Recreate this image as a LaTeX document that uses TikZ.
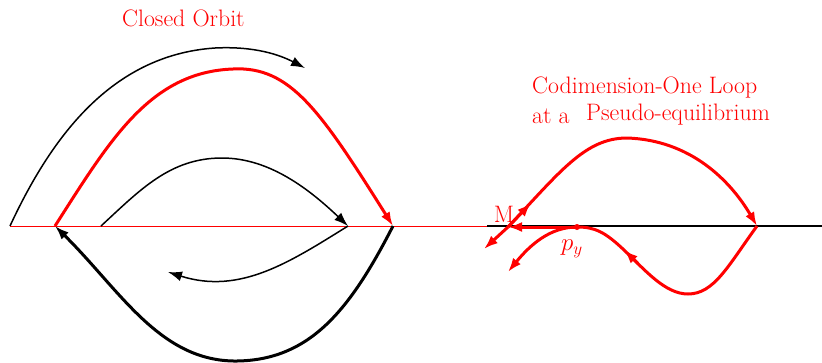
\documentclass[tikz,border=0pt]{standalone}
\usetikzlibrary{arrows.meta}
\begin{document}
\begin{tikzpicture}[x=1pt,y=-1pt,
  thinblk/.style={black, line width=1.5pt},
  thickblk/.style={black, line width=3pt},
  thickred/.style={red, line width=3pt},
  arr/.style={-{Latex[length=14pt,width=10pt]}},
  lbl/.style={red, font=\fontsize{23.8}{28}\selectfont, inner sep=0pt}
]
\useasboundingbox (0,0) rectangle (822,362);

% axis lines
\coordinate (L0) at (10,226);
\coordinate (Lmid) at (487,226);
\coordinate (Lend) at (822,226);
\draw[red, line width=1pt] (L0) -- (Lmid);
\draw[black, line width=1.8pt] (Lmid) -- (Lend);

% left part points
\coordinate (O0) at (10,226);
\coordinate (O1) at (305,68);
\coordinate (R0) at (55,226);
\coordinate (R1) at (393,226);
\coordinate (I0) at (101,226);
\coordinate (I1) at (348,226);
\coordinate (D1) at (168,272);

% outer thin black arc
\draw[thinblk, arr] (O0) .. controls (50,140) and (110,55) .. (215,48)
   .. controls (255,46) and (280,55) .. (O1);
% red closed orbit (upper)
\draw[thickred, arr] (R0) .. controls (110,140) and (150,72) .. (233,69)
   .. controls (290,66) and (320,110) .. (R1);
% inner thin black arc
\draw[thinblk, arr] (I0) .. controls (140,190) and (170,158) .. (222,158)
   .. controls (270,158) and (310,190) .. (I1);
% lower thin black arc
\draw[thinblk, arr] (I1) .. controls (290,262) and (240,295) .. (D1);
% thick black lower branch
\draw[thickblk, arr] (R1) .. controls (350,310) and (310,360) .. (237,361)
   .. controls (160,362) and (120,290) .. (R0);

\node[lbl, anchor=base west] (t1) at (122,26) {Closed Orbit};

% right part
\coordinate (M) at (508,227);
\coordinate (P1) at (757,226);
\coordinate (py) at (577,227);
\coordinate (Q) at (624,250);
\coordinate (Qa) at (638,263.5);
\coordinate (E1) at (508,272);
\coordinate (E2) at (484,249);
\coordinate (U1) at (531,203);

\draw[thickred, arr] (M) -- (E2);
\draw[thickred, arr] (M) -- (U1);
\draw[thickred, arr] (M) .. controls (560,172) and (585,138) .. (627,138)
   .. controls (690,140) and (730,180) .. (P1);
\draw[thickred] (P1) .. controls (728,266) and (714,294) .. (688,294)
   .. controls (665,294) and (645,270) .. (Q)
   .. controls (605,232) and (595,227) .. (py);
\draw[thickred, arr] (Qa) -- (Q);
\draw[thickred, arr] (py) -- (M);
\draw[thickred, arr] (py) .. controls (550,227) and (530,245) .. (E1);
\fill[red] (py) circle (3pt);

\node[lbl] (Mlab) at (504,214) {M};
\node[lbl] (pylab) at (572,249) {$p_y$};
\node[lbl, anchor=base west] (t2) at (532,93) {Codimension-One Loop};
\node[lbl, anchor=base west] (t3) at (532,123) {at a};
\node[lbl, anchor=base west] (t4) at (586,120) {Pseudo-equilibrium};
\end{tikzpicture}
\end{document}
